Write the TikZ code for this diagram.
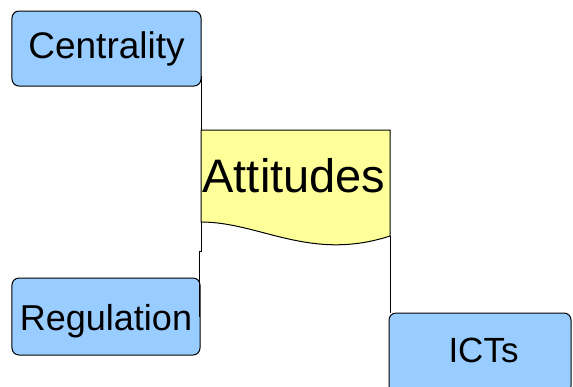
\documentclass[tikz,border=0pt]{standalone}
\usepackage{fontspec}
\setmainfont{Liberation Sans}
\definecolor{boxblue}{RGB}{153,204,255}
\definecolor{boxyellow}{RGB}{255,255,153}
\begin{document}
\begin{tikzpicture}[x=1bp,y=-1bp,
  bluebox/.style={draw=black,line width=1bp,fill=boxblue,rounded corners=7bp,inner sep=0pt},
  conn/.style={draw=black,line width=1bp}]
\useasboundingbox (0,0) rectangle (573,386);
\clip (0,0) rectangle (573,386);
% Centrality
\node[bluebox,minimum width=189bp,minimum height=75bp,text height=28bp,text depth=9bp,
  font=\fontsize{37bp}{40bp}\selectfont] (cen) at (106.5,48.5) {Centrality};
% Regulation
\node[bluebox,minimum width=188bp,minimum height=77bp,text height=30bp,text depth=3bp,
  font=\fontsize{36bp}{40bp}\selectfont] (reg) at (106,316.5) {Regulation};
% ICTs
\node[bluebox,minimum width=182bp,minimum height=80bp,text height=27bp,text depth=8bp,
  font=\fontsize{35bp}{40bp}\selectfont] (ict) at (480,353) {\hspace*{7bp}ICTs};
% Attitudes shape
\coordinate (atl) at (201,130);
\coordinate (atr) at (390,130);
\coordinate (abl) at (201,222);
\coordinate (abr) at (390,236);
\filldraw[line width=1bp,fill=boxyellow] (abl) -- (atl) -- (atr) -- (abr)
  .. controls (310,262) and (260,222) .. (abl) -- cycle;
\node[anchor=base,inner sep=0pt,font=\fontsize{47bp}{50bp}\selectfont] (att) at (294,192) {Attitudes};
% connectors
\coordinate (c1) at (201,76);
\coordinate (c2) at (201,251);
\coordinate (c3) at (199,317);
\coordinate (c4) at (390,313);
\draw[conn] (c1) -- (atl);
\draw[conn] (abl) -- (c2) -| (c3);
\draw[conn] (abr) -- (c4);
\end{tikzpicture}
\end{document}
